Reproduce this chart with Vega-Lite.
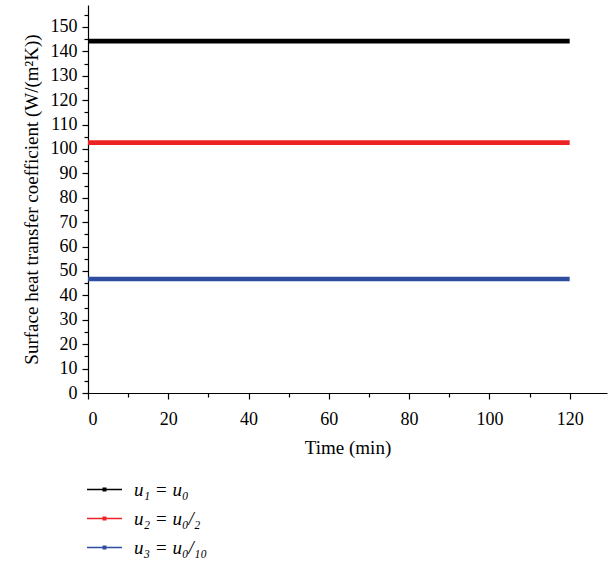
{
  "$schema": "https://vega.github.io/schema/vega-lite/v6.json",
  "autosize": "none",
  "width": 519,
  "height": 388,
  "padding": {"left": 88, "top": 5, "right": 1, "bottom": 170},
  "background": "white",
  "config": {
    "font": "Liberation Serif",
    "view": {"stroke": null},
    "axis": {
      "grid": false,
      "domainColor": "#000000",
      "domainWidth": 1.2,
      "tickColor": "#000000",
      "tickWidth": 1.2,
      "labelColor": "#000000",
      "titleColor": "#000000",
      "labelFont": "Liberation Serif",
      "titleFont": "Liberation Serif",
      "labelFontSize": 18,
      "titleFontSize": 19,
      "titleFontWeight": "normal"
    }
  },
  "data": {
    "values": [
      {"t": 0, "h": 144.2, "series": "u₁ = u₀"},
      {"t": 20, "h": 144.2, "series": "u₁ = u₀"},
      {"t": 40, "h": 144.2, "series": "u₁ = u₀"},
      {"t": 60, "h": 144.2, "series": "u₁ = u₀"},
      {"t": 80, "h": 144.2, "series": "u₁ = u₀"},
      {"t": 100, "h": 144.2, "series": "u₁ = u₀"},
      {"t": 120, "h": 144.2, "series": "u₁ = u₀"},
      {"t": 0, "h": 102.6, "series": "u₂ = u₀/₂"},
      {"t": 20, "h": 102.6, "series": "u₂ = u₀/₂"},
      {"t": 40, "h": 102.6, "series": "u₂ = u₀/₂"},
      {"t": 60, "h": 102.6, "series": "u₂ = u₀/₂"},
      {"t": 80, "h": 102.6, "series": "u₂ = u₀/₂"},
      {"t": 100, "h": 102.6, "series": "u₂ = u₀/₂"},
      {"t": 120, "h": 102.6, "series": "u₂ = u₀/₂"},
      {"t": 0, "h": 46.7, "series": "u₃ = u₀/₁₀"},
      {"t": 20, "h": 46.7, "series": "u₃ = u₀/₁₀"},
      {"t": 40, "h": 46.7, "series": "u₃ = u₀/₁₀"},
      {"t": 60, "h": 46.7, "series": "u₃ = u₀/₁₀"},
      {"t": 80, "h": 46.7, "series": "u₃ = u₀/₁₀"},
      {"t": 100, "h": 46.7, "series": "u₃ = u₀/₁₀"},
      {"t": 120, "h": 46.7, "series": "u₃ = u₀/₁₀"}
    ]
  },
  "layer": [
    {
      "mark": {"type": "line", "strokeWidth": 4.6},
      "encoding": {
        "x": {
          "field": "t", "type": "quantitative",
          "scale": {"domain": [0, 129.3], "nice": false, "zero": false},
          "axis": {
            "orient": "bottom",
            "values": [0, 20, 40, 60, 80, 100, 120],
            "tickSize": 6,
            "labelPadding": 11,
            "title": "Time (min)",
            "titlePadding": 10
          }
        },
        "y": {
          "field": "h", "type": "quantitative",
          "scale": {"domain": [0, 159], "nice": false, "zero": false},
          "axis": {
            "orient": "left",
            "values": [0, 10, 20, 30, 40, 50, 60, 70, 80, 90, 100, 110, 120, 130, 140, 150],
            "tickSize": 6,
            "labelPadding": 5,
            "title": "Surface heat transfer coefficient (W/(m²K))",
            "titlePadding": 9
          }
        },
        "color": {
          "field": "series", "type": "nominal",
          "scale": {
            "domain": ["u₁ = u₀", "u₂ = u₀/₂", "u₃ = u₀/₁₀"],
            "range": ["#000000", "#ed2224", "#2e4d9e"]
          },
          "legend": {
            "orient": "none",
            "legendX": -2,
            "legendY": 466,
            "title": null,
            "symbolType": "M-1,0H1M-0.07,-0.07H0.07V0.07H-0.07Z",
            "symbolSize": 1225,
            "symbolStrokeWidth": 1.5,
            "labelFont": "Liberation Serif",
            "labelFontStyle": "italic",
            "labelFontSize": 19,
            "labelColor": "#000000",
            "labelOffset": 11,
            "rowPadding": -8
          }
        }
      }
    },
    {
      "mark": {"type": "line", "opacity": 0},
      "encoding": {
        "x": {
          "field": "t", "type": "quantitative",
          "scale": {"domain": [0, 129.3], "nice": false, "zero": false},
          "axis": {
            "orient": "bottom",
            "values": [10, 30, 50, 70, 90, 110],
            "tickSize": 4,
            "labels": false,
            "domain": false,
            "title": null
          }
        },
        "y": {
          "field": "h", "type": "quantitative",
          "scale": {"domain": [0, 159], "nice": false, "zero": false},
          "axis": {
            "orient": "left",
            "values": [5, 15, 25, 35, 45, 55, 65, 75, 85, 95, 105, 115, 125, 135, 145, 155],
            "tickSize": 4,
            "labels": false,
            "domain": false,
            "title": null
          }
        },
        "detail": {"field": "series", "type": "nominal"}
      }
    }
  ],
  "resolve": {"axis": {"x": "independent", "y": "independent"}}
}
